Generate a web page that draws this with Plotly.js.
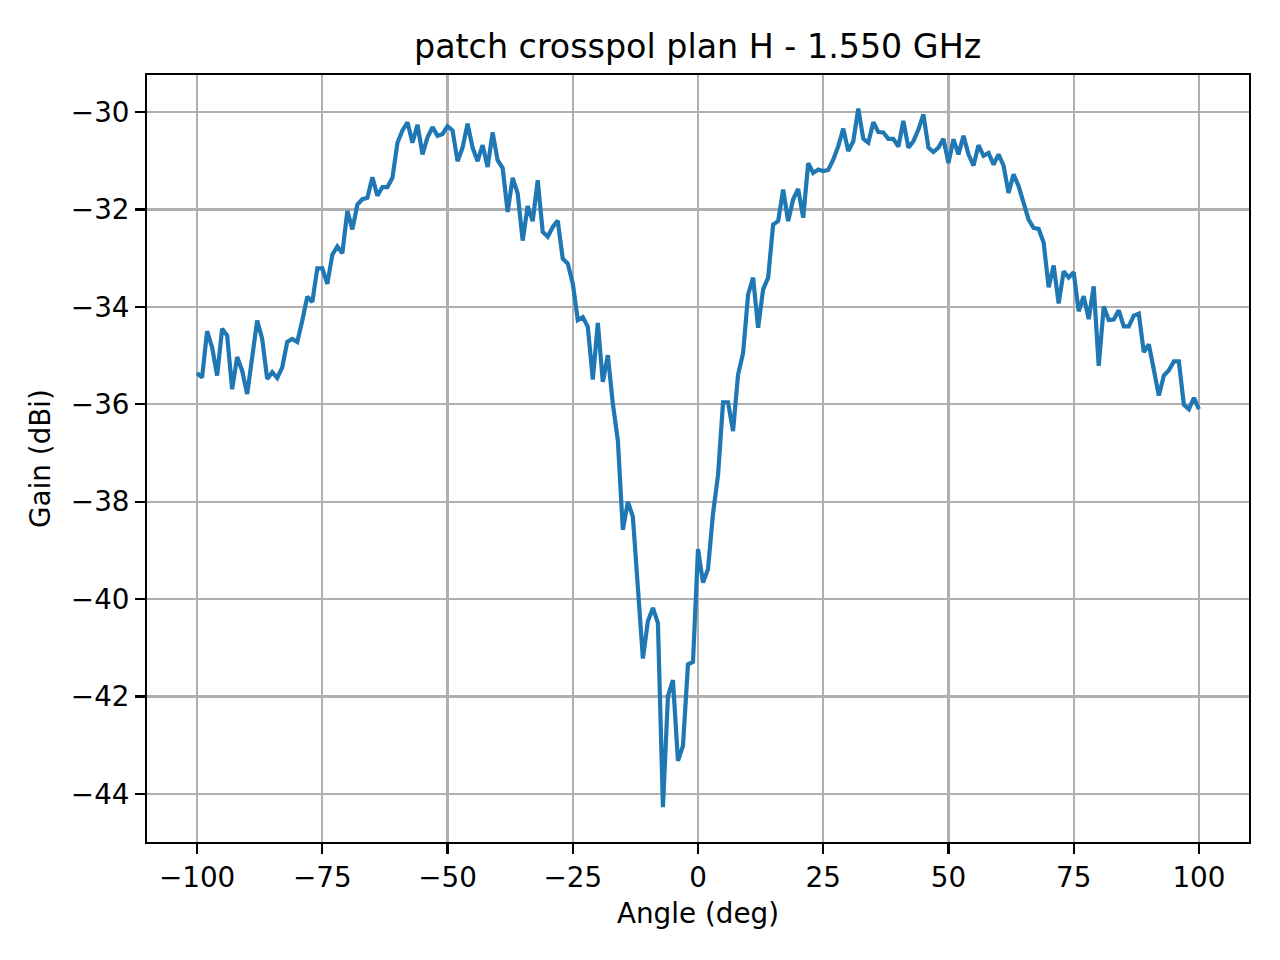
<!DOCTYPE html>
<html>
<head>
<meta charset="utf-8">
<script src="https://cdn.plot.ly/plotly-3.0.1.min.js"></script>
<style>
  body { margin: 0; background: #fff; }
  #tgtDraw { width: 1280px; height: 960px; }
</style>
</head>
<body>
<div id="tgtDraw"></div>
<script>
// angle sweep, 1 deg step
var angles = [
  -100, -99, -98, -97, -96, -95, -94, -93, -92, -91,
  -90, -89, -88, -87, -86, -85, -84, -83, -82, -81,
  -80, -79, -78, -77, -76, -75, -74, -73, -72, -71,
  -70, -69, -68, -67, -66, -65, -64, -63, -62, -61,
  -60, -59, -58, -57, -56, -55, -54, -53, -52, -51,
  -50, -49, -48, -47, -46, -45, -44, -43, -42, -41,
  -40, -39, -38, -37, -36, -35, -34, -33, -32, -31,
  -30, -29, -28, -27, -26, -25, -24, -23, -22, -21,
  -20, -19, -18, -17, -16, -15, -14, -13, -12, -11,
  -10, -9, -8, -7, -6, -5, -4, -3, -2, -1,
  0, 1, 2, 3, 4, 5, 6, 7, 8, 9,
  10, 11, 12, 13, 14, 15, 16, 17, 18, 19,
  20, 21, 22, 23, 24, 25, 26, 27, 28, 29,
  30, 31, 32, 33, 34, 35, 36, 37, 38, 39,
  40, 41, 42, 43, 44, 45, 46, 47, 48, 49,
  50, 51, 52, 53, 54, 55, 56, 57, 58, 59,
  60, 61, 62, 63, 64, 65, 66, 67, 68, 69,
  70, 71, 72, 73, 74, 75, 76, 77, 78, 79,
  80, 81, 82, 83, 84, 85, 86, 87, 88, 89,
  90, 91, 92, 93, 94, 95, 96, 97, 98, 99,
  100
];

// crosspol gain (dBi)
var gain = [
  -35.36, -35.45, -34.50, -34.83, -35.41, -34.45, -34.59, -35.69, -35.03, -35.31,
  -35.79, -35.03, -34.28, -34.66, -35.48, -35.34, -35.46, -35.24, -34.72, -34.66,
  -34.72, -34.28, -33.79, -33.90, -33.21, -33.21, -33.53, -32.93, -32.76, -32.90,
  -32.03, -32.41, -31.90, -31.79, -31.76, -31.34, -31.72, -31.54, -31.54, -31.35,
  -30.63, -30.38, -30.21, -30.63, -30.26, -30.87, -30.52, -30.31, -30.49, -30.45,
  -30.29, -30.38, -31.01, -30.73, -30.24, -30.73, -31.01, -30.68, -31.13, -30.42,
  -30.99, -31.15, -32.05, -31.35, -31.67, -32.64, -31.93, -32.24, -31.40, -32.46,
  -32.56, -32.36, -32.23, -33.01, -33.11, -33.52, -34.27, -34.21, -34.41, -35.49,
  -34.33, -35.54, -34.99, -35.99, -36.74, -38.58, -38.00, -38.31, -39.77, -41.22,
  -40.45, -40.18, -40.49, -44.27, -41.99, -41.66, -43.32, -43.01, -41.34, -41.29,
  -38.97, -39.66, -39.38, -38.24, -37.45, -35.96, -35.96, -36.55, -35.39, -34.95,
  -33.75, -33.40, -34.43, -33.64, -33.40, -32.31, -32.24, -31.59, -32.24, -31.79,
  -31.58, -32.17, -31.05, -31.25, -31.18, -31.21, -31.19, -30.98, -30.70, -30.34,
  -30.80, -30.60, -29.93, -30.55, -30.63, -30.21, -30.41, -30.42, -30.55, -30.55,
  -30.71, -30.18, -30.73, -30.60, -30.36, -30.05, -30.73, -30.82, -30.73, -30.55,
  -31.05, -30.56, -30.87, -30.49, -30.87, -31.10, -30.68, -30.90, -30.84, -31.08,
  -30.87, -31.10, -31.66, -31.28, -31.52, -31.85, -32.21, -32.38, -32.40, -32.68,
  -33.60, -33.15, -33.93, -33.27, -33.40, -33.29, -34.09, -33.78, -34.25, -33.58,
  -35.21, -33.99, -34.27, -34.26, -34.07, -34.40, -34.40, -34.18, -34.14, -34.93,
  -34.77, -35.29, -35.82, -35.41, -35.30, -35.12, -35.12, -36.01, -36.10, -35.87,
  -36.10
];

var xTickVals = [-100, -75, -50, -25, 0, 25, 50, 75, 100];
var xTickText = ["\u2212100", "\u221275", "\u221250", "\u221225", "0", "25", "50", "75", "100"];
var yTickVals = [-44, -42, -40, -38, -36, -34, -32, -30];
var yTickText = ["\u221244", "\u221242", "\u221240", "\u221238", "\u221236", "\u221234", "\u221232", "\u221230"];

var trace1 = {
  x: angles,
  y: gain,
  type: 'scatter',
  mode: 'lines',
  line: { color: '#1f77b4', width: 4.2 },
  hoverinfo: 'skip'
};

var axisStyle = {
  showline: true,
  mirror: true,
  linecolor: 'black',
  linewidth: 2.2,
  ticks: 'outside',
  ticklen: 9.7,
  tickwidth: 2.2,
  tickcolor: 'black',
  showgrid: true,
  gridcolor: '#b0b0b0',
  gridwidth: 2.2,
  zeroline: false,
  tickfont: { family: 'DejaVu Sans', size: 27.8, color: 'black' }
};

var layout = {
  width: 1280,
  height: 960,
  margin: { l: 147, r: 31, t: 75, b: 118 },
  paper_bgcolor: 'white',
  plot_bgcolor: 'white',
  showlegend: false,
  font: { family: 'DejaVu Sans', color: 'black' },
  title: {
    text: 'patch crosspol plan H - 1.550 GHz',
    font: { family: 'DejaVu Sans', size: 33.3, color: 'black' },
    x: 0.545, xanchor: 'center',
    y: 1 - 46 / 960, yref: 'container', yanchor: 'middle'
  },
  xaxis: Object.assign({}, axisStyle, {
    range: [-110, 110],
    tickmode: 'array',
    tickvals: xTickVals,
    ticktext: xTickText,
    title: { text: 'Angle (deg)', font: { family: 'DejaVu Sans', size: 27.8, color: 'black' }, standoff: 10 }
  }),
  yaxis: Object.assign({}, axisStyle, {
    range: [-44.985, -29.24],
    tickmode: 'array',
    tickvals: yTickVals,
    ticktext: yTickText,
    title: { text: 'Gain (dBi)', font: { family: 'DejaVu Sans', size: 27.8, color: 'black' }, standoff: 12 }
  })
};

Plotly.newPlot('tgtDraw', [trace1], layout, { displayModeBar: false, staticPlot: true });
</script>
</body>
</html>
